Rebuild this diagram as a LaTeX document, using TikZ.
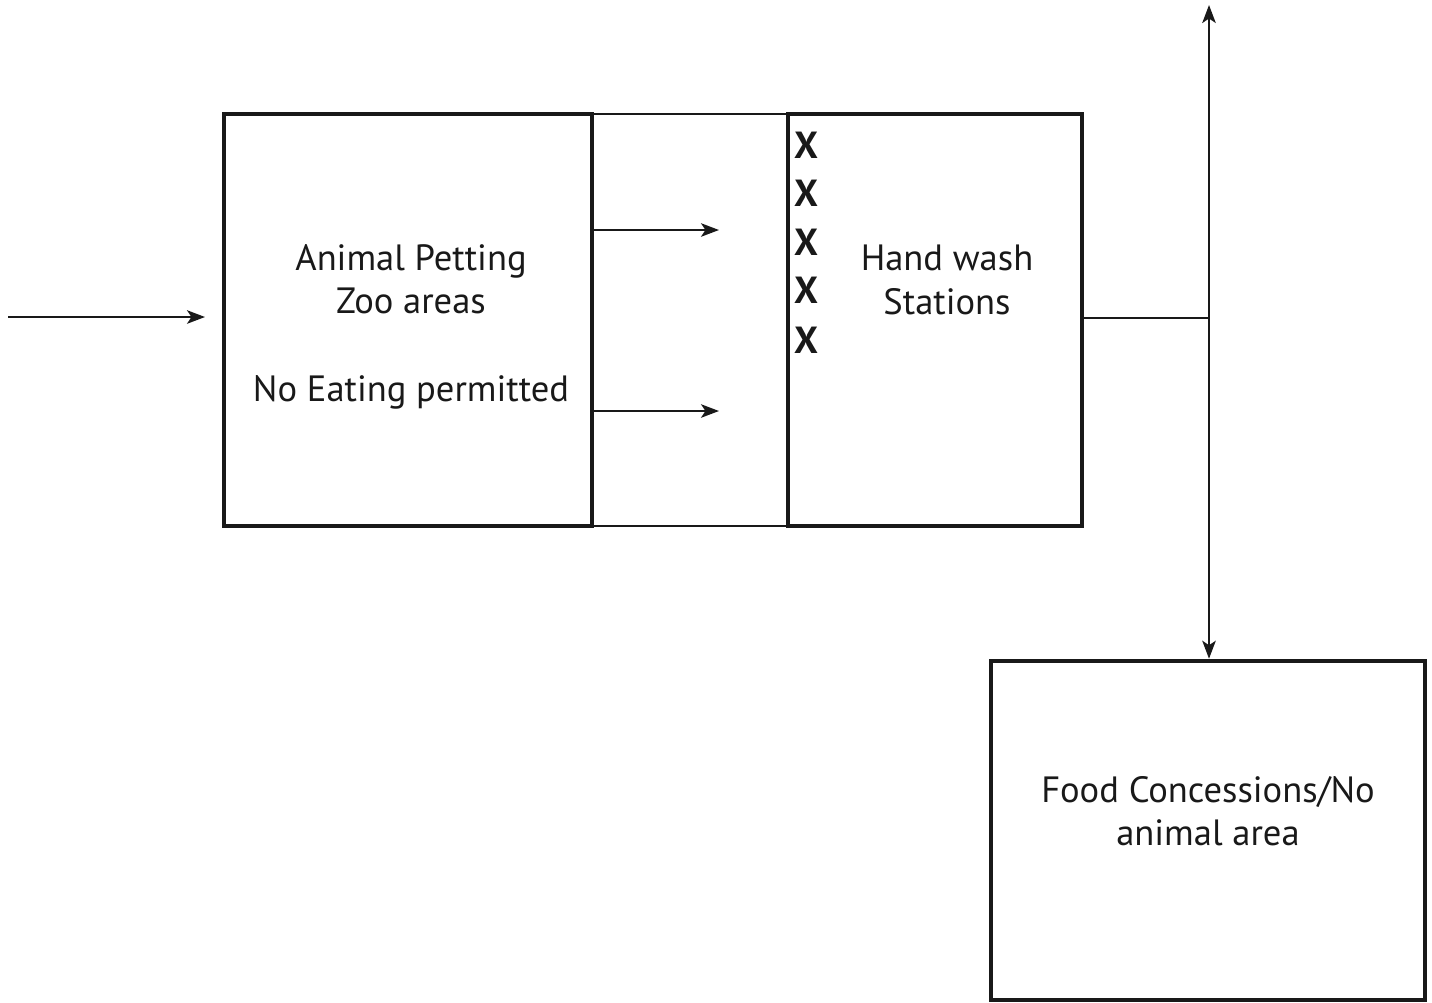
\documentclass[tikz,border=0pt]{standalone}
\usepackage{fontspec}
\setmainfont{PT Sans}
\usetikzlibrary{arrows.meta}
\tikzset{
  box/.style={draw=black!90, line width=2.6pt, fill=none, inner sep=0pt},
  thinline/.style={draw=black!90, line width=1.2pt},
  arr/.style={thinline, -{Stealth[length=0.36cm,width=0.27cm,inset=0.09cm]}},
  lbl/.style={font=\fontsize{20.8}{24.6}\selectfont, align=center, text=black!90, inner sep=0pt},
  xmark/.style={font=\fontsize{21.5}{24}\selectfont\bfseries, text=black!90, inner sep=0pt}
}
\begin{document}
\begin{tikzpicture}[x=0.02cm,y=-0.02cm]
\useasboundingbox (0,0) rectangle (1432,1002);
% corridor between the boxes
\node[thinline, draw, minimum width=196*0.02cm, minimum height=412*0.02cm, inner sep=0pt] (corr) at (690,320) {};
% boxes
\node[box, minimum width=368*0.02cm, minimum height=412*0.02cm] (pet) at (408,320) {};
\node[box, minimum width=294*0.02cm, minimum height=412*0.02cm] (wash) at (935,320) {};
\node[box, minimum width=434*0.02cm, minimum height=339*0.02cm] (food) at (1208,830.5) {};
% texts
\node[lbl] (pettxt) at (411,327) {Animal Petting\\Zoo areas\\[0.9cm]No Eating permitted};
\node[lbl] (washtxt) at (947,280) {Hand wash\\Stations};
\node[lbl] (foodtxt) at (1208,811) {Food Concessions/No\\animal area};
% X marks
\foreach \i/\yy in {1/145,2/193,3/242,4/290,5/340}{
  \node[xmark] (x\i) at (806,\yy) {X};
}
% connectors
\coordinate (entryS) at (8,317);
\coordinate (entryE) at (205,317);
\draw[arr] (entryS) -- (entryE);
\coordinate (c1) at (719,230);
\coordinate (c2) at (719,411);
\draw[arr] (pet.east |- c1) -- (c1);
\draw[arr] (pet.east |- c2) -- (c2);
\coordinate (junc) at (1209,318);
\coordinate (topend) at (1209,5);
\draw[thinline] (wash.east |- junc) -- (junc);
\draw[arr] (junc) -- (topend);
\draw[arr] (junc) -- (food.north -| junc);
\end{tikzpicture}
\end{document}
